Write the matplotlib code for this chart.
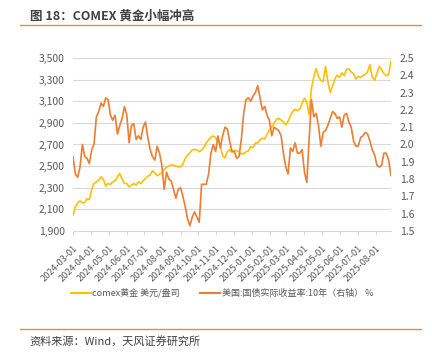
import matplotlib
matplotlib.use('Agg')
import matplotlib.pyplot as plt
import matplotlib.dates as mdates
from matplotlib.lines import Line2D
import pandas as pd

plt.rcParams['font.family'] = ['Noto Sans CJK SC', 'DejaVu Sans']

dates = pd.date_range('2024-03-01', '2025-08-27', freq='4D')

gold = [
    2045, 2123, 2160, 2178, 2160, 2163, 2200, 2191, 2287, 2339,
    2355, 2370, 2401, 2377, 2315, 2339, 2330, 2355, 2364, 2401,
    2432, 2380, 2339, 2339, 2308, 2324, 2339, 2324, 2355, 2339,
    2364, 2386, 2407, 2417, 2457, 2438, 2410, 2423, 2438, 2469,
    2491, 2500, 2510, 2510, 2500, 2494, 2494, 2519, 2572, 2602,
    2624, 2649, 2655, 2649, 2633, 2649, 2674, 2717, 2742, 2767,
    2779, 2763, 2736, 2690,
    2596, 2575, 2633, 2655, 2627, 2646, 2643, 2633, 2612, 2615,
    2633, 2640, 2680, 2671, 2714, 2714, 2742, 2757, 2751, 2794,
    2835, 2859, 2896, 2930, 2943, 2927, 2906, 2881, 2915, 2965,
    3005, 3026, 3011, 3030, 3082, 3129, 3090, 2975, 3221, 3324,
    3401, 3330, 3293, 3283, 3422, 3283, 3181, 3237, 3305, 3342,
    3321, 3361, 3336, 3398, 3398, 3370, 3355, 3305, 3330, 3321,
    3336, 3348, 3373, 3438, 3324, 3293, 3361, 3422, 3392, 3355,
    3336, 3345, 3470,
]

real_yield = [
    1.93, 1.83, 1.81, 1.87, 2.00, 1.93, 1.92, 1.89, 1.97, 2.00,
    2.16, 2.19, 2.24, 2.22, 2.27, 2.26, 2.17, 2.14, 2.17, 2.06,
    2.11, 2.15, 2.22, 2.17, 2.01, 2.11, 2.12, 2.03, 2.05, 2.03,
    2.10, 2.13, 2.04, 1.97, 1.93, 1.91, 1.99, 1.95, 1.88, 1.74,
    1.84, 1.80, 1.79, 1.74, 1.69, 1.74, 1.75, 1.70, 1.64, 1.57,
    1.53, 1.58, 1.61, 1.58, 1.55, 1.77, 1.77, 1.77, 1.83, 1.95,
    2.00, 1.96, 2.05, 1.98,
    2.05, 2.10, 2.09, 2.02, 1.96, 1.96, 1.92, 1.93, 2.03, 2.18,
    2.26, 2.27, 2.25, 2.28, 2.30, 2.34, 2.27, 2.20, 2.22, 2.17,
    2.14, 2.05, 2.10, 2.09, 2.08, 2.05, 1.95, 1.87, 1.83, 1.98,
    1.96, 2.01, 1.95, 1.95, 1.97, 1.84, 1.78, 2.03, 2.26, 2.16,
    2.18, 2.11, 1.99, 2.07, 2.08, 2.11, 2.15, 2.19, 2.18, 2.15,
    2.16, 2.10, 2.17, 2.18, 2.13, 2.10, 2.02, 1.99, 1.99, 2.04,
    2.05, 2.07, 2.06, 2.02, 1.97, 1.94, 1.88, 1.87, 1.88, 1.95,
    1.95, 1.91, 1.82,
]

gold_label = 'comex黄金 美元/盎司'
yield_label = '美国:国债实际收益率:10年（右轴） %'
title = '图 18：COMEX 黄金小幅冲高'
source = '资料来源：Wind，天风证券研究所'

GOLD_C = '#FFC000'
YIELD_C = '#ED7D31'
TEXT_C = '#595959'
GRID_C = '#D9D9D9'

fig = plt.figure(figsize=(4.32, 3.57), dpi=100)
ax = fig.add_axes([0.169, 0.353, 0.736, 0.4845])
ax2 = ax.twinx()

ax.plot(dates, gold, color=GOLD_C, linewidth=1.2)
ax2.plot(dates, real_yield, color=YIELD_C, linewidth=1.2)

ax.set_ylim(1900, 3500)
ax.set_yticks(range(1900, 3501, 200))
ax.set_yticklabels([f'{v:,}' for v in range(1900, 3501, 200)])
ax2.set_ylim(1.5, 2.5)
ax2.set_yticks([1.5 + 0.1 * i for i in range(11)])
ax2.set_yticklabels([f'{1.5 + 0.1 * i:.1f}' for i in range(11)])

ax.set_xlim(dates[0], dates[-1])
ax.xaxis.set_major_locator(mdates.MonthLocator())
ax.xaxis.set_major_formatter(mdates.DateFormatter('%Y-%m-%d'))

ax.grid(axis='y', color=GRID_C, linewidth=0.8)
ax.set_axisbelow(True)
for a in (ax, ax2):
    for s in a.spines.values():
        s.set_visible(False)
ax.spines['bottom'].set_visible(True)
ax.spines['bottom'].set_color(GRID_C)

ax.tick_params(axis='y', length=0, pad=6, labelsize=7.5, labelcolor=TEXT_C)
ax2.tick_params(axis='y', length=0, pad=6.5, labelsize=7.5, labelcolor=TEXT_C)
ax.tick_params(axis='x', length=3, color=GRID_C, pad=6.5, labelsize=6.6,
               labelcolor=TEXT_C)
for lbl in ax.get_xticklabels():
    lbl.set_rotation(45)
    lbl.set_ha('right')
    lbl.set_va('top')
    lbl.set_rotation_mode('anchor')

handles = [Line2D([], [], color=GOLD_C, linewidth=1.5),
           Line2D([], [], color=YIELD_C, linewidth=1.5)]
fig.legend(handles, [gold_label, yield_label], loc='center left',
           bbox_to_anchor=(0.145, 0.179), ncol=2, frameon=False,
           fontsize=6.5, labelcolor=TEXT_C, handlelength=2.2,
           handletextpad=0.2, columnspacing=2.2)

# header / footer
fig.text(0.069, 0.955, title, fontsize=9, fontweight='bold', color='#404040',
         va='center', ha='left')
fig.add_artist(Line2D([0.046, 0.975], [0.93, 0.93], color='#F08A30',
                      linewidth=1.0))
fig.add_artist(Line2D([0.046, 0.975], [0.078, 0.078], color='#F08A30',
                      linewidth=1.0))
fig.text(0.069, 0.045, source, fontsize=8, color='#404040', va='center',
         ha='left')

fig.savefig('out.png', dpi=100)
